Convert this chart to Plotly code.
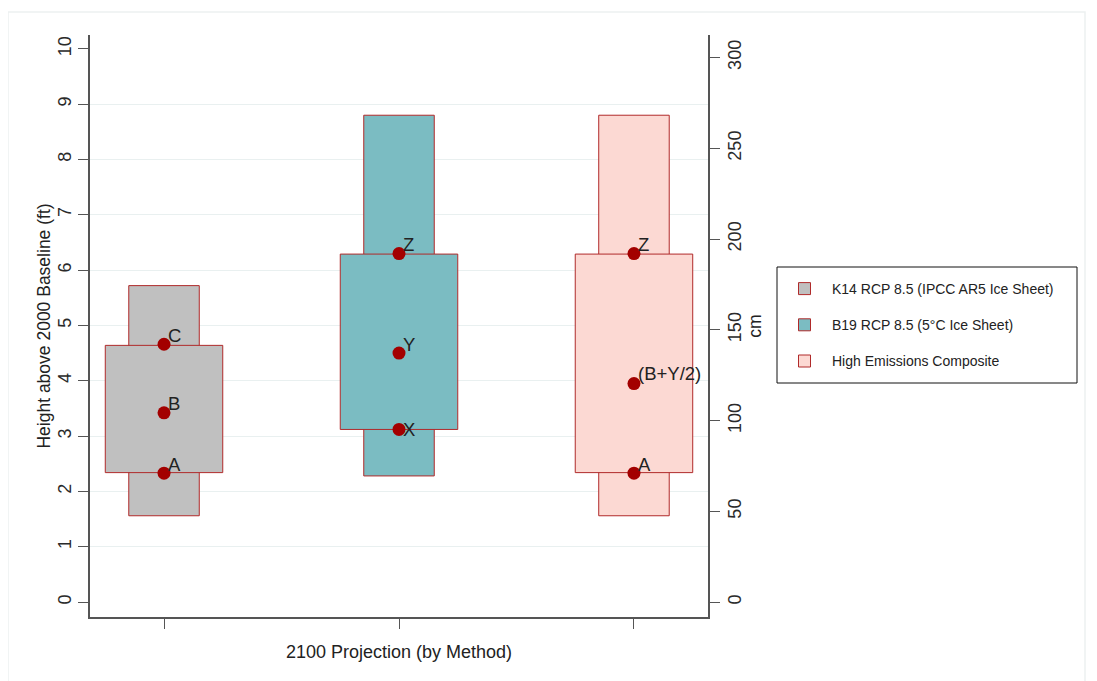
import plotly.graph_objects as go

# ---- data (feet) ----
methods = ["K14 RCP 8.5 (IPCC AR5 Ice Sheet)", "B19 RCP 8.5 (5°C Ice Sheet)", "High Emissions Composite"]
positions = [1, 2, 3]
outer_low = [1.56, 2.28, 1.56]
outer_high = [5.72, 8.80, 8.80]
inner_low = [2.34, 3.12, 2.34]
inner_high = [4.64, 6.29, 6.29]

point_x = [1, 1, 1, 2, 2, 2, 3, 3, 3]
point_y = [2.33, 3.42, 4.66, 3.12, 4.50, 6.30, 2.33, 3.95, 6.30]
point_labels = ["A", "B", "C", "X", "Y", "Z", "A", "(B+Y/2)", "Z"]
label_yshift = [9, 9, 9, 0, 9, 9, 9, 10, 9]

ft_ticks = list(range(0, 11))
grid_ticks = list(range(1, 10))
cm_ticks = list(range(0, 301, 50))
FT_TO_CM = 30.48

fills = ["#c0c0c0", "#7bbcc2", "#fcd9d3"]
edge = "#b02a2a"
dot = "#a30000"

fig = go.Figure()

# outer (narrow) boxes
for i in range(3):
    fig.add_trace(go.Bar(
        x=[positions[i]], base=[outer_low[i]], y=[outer_high[i] - outer_low[i]],
        width=0.30, marker=dict(color=fills[i], line=dict(color=edge, width=1)),
        showlegend=False, legendgroup=f"g{i}", hoverinfo="skip"))
# inner (wide) boxes
for i in range(3):
    fig.add_trace(go.Bar(
        x=[positions[i]], base=[inner_low[i]], y=[inner_high[i] - inner_low[i]],
        width=0.50, marker=dict(color=fills[i], line=dict(color=edge, width=1)),
        name=methods[i], legendgroup=f"g{i}", showlegend=True, hoverinfo="skip"))

fig.add_trace(go.Scatter(
    x=point_x, y=point_y, mode="markers",
    marker=dict(color=dot, size=13), showlegend=False, hoverinfo="skip"))

for xv, yv, lab, ys in zip(point_x, point_y, point_labels, label_yshift):
    fig.add_annotation(x=xv, y=yv, text=lab, showarrow=False, xanchor="left",
                       yanchor="middle", xshift=2, yshift=ys,
                       font=dict(size=18.5, color="#222222"))

# dummy trace for right axis
fig.add_trace(go.Scatter(x=[None], y=[None], yaxis="y2", showlegend=False))

W, H = 1089, 673
L, R, T, B = 82, 700, 27, 609
ymin, ymax = -0.27, 10.25


def px(xp):
    return (xp - L) / (R - L)


def py(yp):
    return (B - yp) / (B - T)


fig.update_layout(
    width=W, height=H,
    margin=dict(l=L, r=W - R, t=T, b=H - B),
    paper_bgcolor="white", plot_bgcolor="white",
    barmode="overlay",
    font=dict(family="Liberation Sans, Arial, sans-serif", color="#333333"),
    xaxis=dict(range=[0.685, 3.315], showline=True, linecolor="#555555", linewidth=1.5,
               tickmode="array", tickvals=positions, ticktext=["", "", ""],
               ticks="outside", ticklen=10, tickcolor="#555555", showgrid=False, zeroline=False,
               title=dict(text="2100 Projection (by Method)", font=dict(size=18, color="#222222"),
                          standoff=15)),
    yaxis=dict(range=[ymin, ymax], showline=True, linecolor="#555555", linewidth=1.5,
               tickmode="array", tickvals=ft_ticks, tickangle=-90,
               ticks="outside", ticklen=10, tickcolor="#555555", showgrid=False, zeroline=False,
               tickfont=dict(size=18, color="#2a2a2a"),
               minor=dict(tickmode="array", tickvals=grid_ticks, showgrid=True,
                          gridcolor="#e9f0f0", gridwidth=1, ticks=""),
               title=dict(text="Height above 2000 Baseline (ft)", font=dict(size=17.5, color="#222222"),
                          standoff=0)),
    yaxis2=dict(range=[ymin * FT_TO_CM, ymax * FT_TO_CM], overlaying="y", side="right",
                showline=True, linecolor="#555555", linewidth=1.5,
                tickmode="array", tickvals=cm_ticks, tickangle=-90,
                ticks="outside", ticklen=10, tickcolor="#555555", showgrid=False, zeroline=False,
                tickfont=dict(size=18, color="#2a2a2a"),
                title=dict(text="cm", font=dict(size=17.5, color="#222222"), standoff=2)),
    legend=dict(x=px(769), y=py(265), xanchor="left", yanchor="top",
                borderwidth=0, bgcolor="rgba(0,0,0,0)",
                font=dict(size=14, color="#222222"), tracegroupgap=15,
                traceorder="grouped", itemwidth=45),
    shapes=[
        dict(type="rect", xref="paper", yref="paper",
             x0=px(0), x1=px(1077), y0=py(700), y1=py(4),
             line=dict(color="#edf1f1", width=1.5), fillcolor="rgba(0,0,0,0)", layer="below"),
        dict(type="rect", xref="paper", yref="paper",
             x0=px(769), x1=px(1069), y0=py(375), y1=py(259),
             line=dict(color="#111111", width=1), fillcolor="white", layer="below"),
    ],
)

fig.write_html("out.html")
